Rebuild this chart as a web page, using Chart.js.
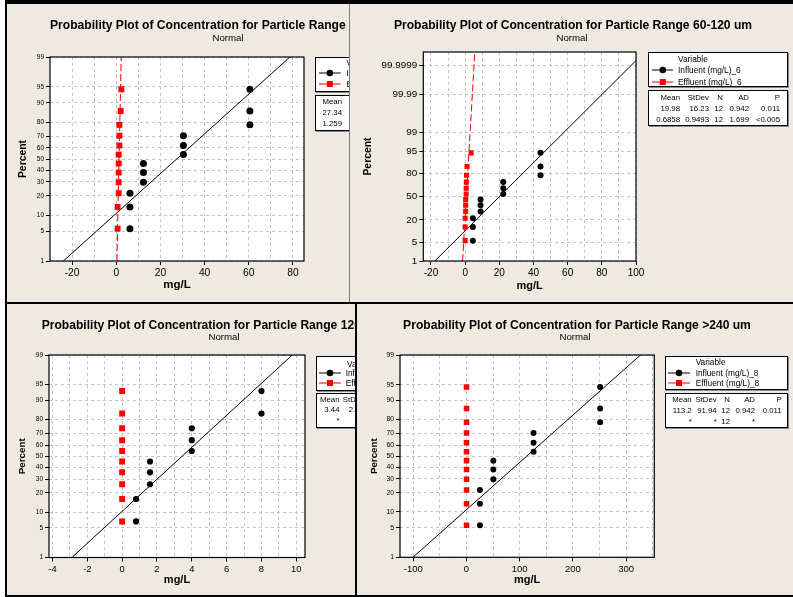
<!DOCTYPE html>
<html lang="en">
<head>
<meta charset="UTF-8" />
<title>Probability Plots of Concentration</title>
<script src="https://cdn.jsdelivr.net/npm/chart.js@4.4.1/dist/chart.umd.min.js"></script>
<style>
  html,body{margin:0;padding:0;}
  body{width:793px;height:597px;position:relative;overflow:hidden;background:#000;
       font-family:"Liberation Sans",Arial,sans-serif;color:#000;}
  .panel{position:absolute;left:0;top:0;width:793px;height:597px;background:#eeeae1;}
  .panel canvas{position:absolute;left:0;top:0;}
  .txt{position:absolute;white-space:nowrap;line-height:1;}
  .box{position:absolute;background:#fff;border:1px solid #000;box-shadow:1px 1px 0 #8a8a8a;box-sizing:border-box;}
  .rule{position:absolute;z-index:5;}
</style>
</head>
<body>
<div class="rule" style="left:0;top:0;width:5px;height:597px;background:#fff"></div>
<div class="rule" style="left:349px;top:4px;width:1px;height:298px;background:#7c7c7c"></div>

<script>
/* ---------- data ---------- */
const yTicksStd  = [1, 5, 10, 20, 30, 40, 50, 60, 70, 80, 90, 95, 99];
const yTicksWide = [1, 5, 20, 50, 80, 95, 99, 99.99, 99.9999];

// percent (plotting position) of each sorted point
const pct12 = [5.6, 13.7, 21.8, 29.8, 37.9, 45.9, 54.0, 62.1, 70.2, 78.2, 86.3, 94.4];
const pct10 = [6.7, 16.3, 26.0, 35.6, 45.2, 54.8, 64.4, 74.0, 83.7, 93.3];

const statHead = ["Mean", "StDev", "N", "AD", "P"];

// top left
const titleA  = "Probability Plot of Concentration for Particle Range <60 um";
const seriesA = ["Influent (mg/L)_5", "Effluent (mg/L)_5"];
const infA    = [6.2, 6.2, 6.2, 12.3, 12.3, 12.3, 30.4, 30.4, 30.4, 60.5, 60.5, 60.5];
const effA    = [0.6, 0.6, 1.1, 1.1, 1.1, 1.1, 1.1, 1.4, 1.4, 1.4, 2.0, 2.3];
const meanA   = [27.34, 1.259];
const sdA     = [22.05, 0.42];
const statsA  = [["27.34"], ["1.259"]];
const xGridA  = [-20, -10, 0, 10, 20, 30, 40, 50, 60, 70, 80];
const xLabA   = [-20, 0, 20, 40, 60, 80];

// top right
const titleB  = "Probability Plot of Concentration for Particle Range 60-120 um";
const seriesB = ["Influent (mg/L)_6", "Effluent (mg/L)_6"];
const infB    = [4.5, 4.5, 4.5, 9.0, 9.0, 9.0, 22.3, 22.3, 22.3, 44.1, 44.1, 44.1];
const effB    = [0, 0, 0, 0.3, 0.3, 0.3, 0.6, 0.6, 0.7, 0.8, 1.1, 3.5];
const meanB   = [19.98, 0.6858];
const sdB     = [16.23, 0.9493];
const statsB  = [["19.98", "16.23", "12", "0.942", "0.011"],
                 ["0.6858", "0.9493", "12", "1.699", "<0.005"]];
const xGridB  = [-20, -10, 0, 10, 20, 30, 40, 50, 60, 70, 80, 90, 100];
const xLabB   = [-20, 0, 20, 40, 60, 80, 100];

// bottom left
const titleC  = "Probability Plot of Concentration for Particle Range 120-240 um";
const seriesC = ["Influent (mg/L)_7", "Effluent (mg/L)_7"];
const infC    = [0.8, 0.8, 1.6, 1.6, 1.6, 4.0, 4.0, 4.0, 8.0, 8.0];
const effC    = [0, 0, 0, 0, 0, 0, 0, 0, 0, 0];
const meanC   = [3.44, 0];
const sdC     = [2.72, null];
const statsC  = [["3.44", "2.72"], ["*", "*"]];
const xGridC  = [-4, -3, -2, -1, 0, 1, 2, 3, 4, 5, 6, 7, 8, 9, 10];
const xLabC   = [-4, -2, 0, 2, 4, 6, 8, 10];

// bottom right
const titleD  = "Probability Plot of Concentration for Particle Range >240 um";
const seriesD = ["Influent (mg/L)_8", "Effluent (mg/L)_8"];
const infD    = [25.2, 25.2, 25.2, 50.4, 50.4, 50.4, 126, 126, 126, 251.2, 251.2, 251.2];
const effD    = [0, 0, 0, 0, 0, 0, 0, 0, 0, 0, 0, 0];
const meanD   = [113.2, 0];
const sdD     = [91.94, null];
const statsD  = [["113.2", "91.94", "12", "0.942", "0.011"], ["*", "*", "12", "*", ""]];
const xGridD  = [-100, -50, 0, 50, 100, 150, 200, 250, 300, 350];
const xLabD   = [-100, 0, 100, 200, 300];

/* ---------- helpers ---------- */
const W = 793, H = 597;
const FONT = "'Liberation Sans', Arial, sans-serif";
const NS = "http://www.w3.org/2000/svg";

// inverse standard normal cdf (Acklam)
function probit(p) {
  const a = [-39.69683028665376, 220.9460984245205, -275.9285104469687, 138.3577518672690, -30.66479806614716, 2.506628277459239];
  const b = [-54.47609879822406, 161.5858368580409, -155.6989798598866, 66.80131188771972, -13.28068155288572];
  const c = [-0.007784894002430293, -0.3223964580411365, -2.400758277161838, -2.549732539343734, 4.374664141464968, 2.938163982698783];
  const d = [0.007784695709041462, 0.3224671290700398, 2.445134137142996, 3.754408661907416];
  const lo = 0.02425;
  const tail = q => (((((c[0]*q+c[1])*q+c[2])*q+c[3])*q+c[4])*q+c[5]) / ((((d[0]*q+d[1])*q+d[2])*q+d[3])*q+1);
  if (p < lo) return tail(Math.sqrt(-2 * Math.log(p)));
  if (p > 1 - lo) return -tail(Math.sqrt(-2 * Math.log(1 - p)));
  const q = p - 0.5, r = q * q;
  return (((((a[0]*r+a[1])*r+a[2])*r+a[3])*r+a[4])*r+a[5])*q / (((((b[0]*r+b[1])*r+b[2])*r+b[3])*r+b[4])*r+1);
}

/* normal probability axis: percent values placed on a z scale */
class ProbitScale extends Chart.Scale {
  determineDataLimits() {
    this.min = this.options.min;
    this.max = this.options.max;
  }
  configure() {
    super.configure();
    this._zLo = probit(this.min / 100);
    this._zHi = probit(this.max / 100);
  }
  getLabelForValue(v) { return String(v); }
  getPixelForValue(v) {
    return this.getPixelForDecimal((probit(v / 100) - this._zLo) / (this._zHi - this._zLo));
  }
}
ProbitScale.id = "probit";
ProbitScale.defaults = {};
Chart.register(ProbitScale);

const framePlugin = {
  id: "frame",
  beforeDraw(chart) {
    const { ctx, chartArea: a } = chart;
    ctx.save(); ctx.fillStyle = "#fff";
    ctx.fillRect(a.left, a.top, a.width, a.height); ctx.restore();
  },
  afterDraw(chart) {
    const { ctx, chartArea: a } = chart;
    ctx.save(); ctx.strokeStyle = "#000"; ctx.lineWidth = 1.2;
    ctx.strokeRect(a.left, a.top, a.width, a.height); ctx.restore();
  }
};

function addText(div, str, x, y, size, align, bold) {
  const el = document.createElement("div");
  el.className = "txt";
  el.textContent = str;
  el.style.left = x + "px";
  el.style.top = y + "px";
  el.style.fontSize = size + "px";
  if (bold) el.style.fontWeight = "bold";
  const tx = align === "center" ? "-50%" : align === "right" ? "-100%" : "0";
  el.style.transform = `translate(${tx},-50%)`;
  div.appendChild(el);
}

function addBox(div, x, y, w, h) {
  const el = document.createElement("div");
  el.className = "box";
  Object.assign(el.style, { left: x + "px", top: y + "px", width: w + "px", height: h + "px" });
  div.appendChild(el);
}

function addKey(div, x0, x1, y, color, square) {
  const svg = document.createElementNS(NS, "svg");
  svg.setAttribute("width", x1 - x0); svg.setAttribute("height", 10);
  Object.assign(svg.style, { position: "absolute", left: x0 + "px", top: (y - 5) + "px" });
  const mid = (x1 - x0) / 2;
  svg.innerHTML = `<line x1="0" y1="5" x2="${x1 - x0}" y2="5" stroke="${color}" stroke-width="1"/>` +
    (square ? `<rect x="${mid - 3}" y="2" width="6" height="6" fill="${color}"/>`
            : `<circle cx="${mid}" cy="5" r="3.3" fill="${color}"/>`);
  div.appendChild(svg);
}

/* ---------- one Minitab style probability plot ---------- */
function makePanel(p) {
  const div = document.createElement("div");
  div.className = "panel";
  const [cl, ct, cr, cb] = p.clip;
  div.style.clipPath = `inset(${ct}px ${W - cr}px ${H - cb}px ${cl}px)`;
  document.body.appendChild(div);

  const cv = document.createElement("canvas");
  cv.width = W; cv.height = H;
  div.appendChild(cv);

  const [L, T, R, B] = p.plot;
  const yLeft = p.pctX - p.pctFont * 1.2 / 2;
  const xBottom = p.mgY + p.mgFont * 1.2 / 2;

  const pts = xs => xs.map((x, i) => ({ x, y: p.pct[i] }));
  const fit = k => [p.yMin, p.yMax].map(v => ({ x: p.mean[k] + probit(v / 100) * p.sd[k], y: v }));

  const datasets = [
    { data: pts(p.inf), showLine: false, pointStyle: "circle", pointRadius: p.dotR,
      backgroundColor: "#000", borderWidth: 0, order: 2 },
    { data: pts(p.eff), showLine: false, pointStyle: "rect", pointRadius: p.sqR,
      backgroundColor: "#ff0000", borderWidth: 0, order: 1 },
    { data: fit(0), showLine: true, pointRadius: 0, borderColor: "#000", borderWidth: 1, order: 3 }
  ];
  if (p.sd[1]) {
    datasets.push({ data: fit(1), showLine: true, pointRadius: 0, borderColor: "#ff0000",
                    borderWidth: 1, borderDash: [7, 3], order: 3 });
  }

  new Chart(cv, {
    type: "scatter",
    data: { datasets },
    plugins: [framePlugin],
    options: {
      responsive: false, animation: false, events: [], devicePixelRatio: 1,
      layout: { padding: { left: yLeft, top: T, right: W - R, bottom: H - xBottom } },
      plugins: { legend: { display: false }, tooltip: { enabled: false } },
      scales: {
        x: {
          type: "linear", position: "bottom", min: p.xMin, max: p.xMax,
          afterBuildTicks: s => { s.ticks = p.xGrid.map(v => ({ value: v })); },
          afterFit: s => { s.height = xBottom - B; },
          ticks: { autoSkip: false, maxRotation: 0, padding: 2, color: "#000",
                   font: { family: FONT, size: p.xFont },
                   callback: v => p.xLab.includes(v) ? String(v) : "" },
          grid: { color: "#c4c4c4", tickLength: 4,
                  tickColor: c => p.xLab.includes(c.tick && c.tick.value) ? "#000" : "rgba(0,0,0,0)" },
          border: { display: false, dash: [3, 3] },
          title: { display: true, text: "mg/L", padding: 0, color: "#000",
                   font: { family: FONT, size: p.mgFont, weight: "bold" } }
        },
        y: {
          type: "probit", position: "left", min: p.yMin, max: p.yMax,
          afterBuildTicks: s => { s.ticks = p.yTicks.map(v => ({ value: v })); },
          afterFit: s => { s.width = L - yLeft; },
          ticks: { autoSkip: false, padding: 2, color: "#000",
                   font: { family: FONT, size: p.yFont } },
          grid: { color: "#c4c4c4", tickLength: 4, tickColor: "#000" },
          border: { display: false, dash: [3, 3] },
          title: { display: true, text: "Percent", padding: 0, color: "#000",
                   font: { family: FONT, size: p.pctFont, weight: "bold" } }
        }
      }
    }
  });

  // titles
  addText(div, p.title, p.titleX, p.titleY, 12.1, p.titleAlign, true);
  addText(div, "Normal", p.normX, p.normY, 9.7, "center", false);

  // legend box
  const g = p.legend;
  addBox(div, g.x, g.y0, g.w, g.y1 - g.y0);
  addText(div, "Variable", g.varX, g.varY, 8.3, "left", false);
  g.rows.forEach((ry, i) => {
    addKey(div, g.x + g.k0, g.x + g.k1, ry, i ? "#ff0000" : "#000", i === 1);
    addText(div, p.series[i], g.textX, ry, 8.3, "left", false);
  });

  // statistics table
  const s = p.table;
  addBox(div, g.x, s.y0, g.w, s.y1 - s.y0);
  s.cols.forEach((cx, j) => {
    addText(div, statHead[j], g.x + cx, s.rows[0], 7.8, "right", false);
    p.stats.forEach((row, i) => {
      if (row[j] !== undefined) addText(div, row[j], g.x + cx, s.rows[i + 1], 7.8, "right", false);
    });
  });
}

/* ---------- the four panels ---------- */
makePanel({
  clip: [7, 4, 349, 302], plot: [50, 57, 304, 261],
  pctX: 23.3, pctFont: 10.4, mgY: 285, mgFont: 11.5,
  xMin: -30, xMax: 85, xGrid: xGridA, xLab: xLabA, xFont: 10.3,
  yMin: 1, yMax: 99, yTicks: yTicksStd, yFont: 6.5,
  dotR: 3.5, sqR: 4.2,
  inf: infA, eff: effA, pct: pct12, mean: meanA, sd: sdA,
  series: seriesA, stats: statsA,
  title: titleA, titleX: 50, titleAlign: "left", titleY: 25, normX: 228, normY: 38,
  legend: { x: 314.7, w: 140, y0: 57.3, y1: 91.7, varX: 346.5, varY: 62.5,
            rows: [73, 84], k0: 4.3, k1: 26, textX: 346.5 },
  table: { y0: 95, y1: 130.7, rows: [101.7, 112.7, 124], cols: [27.3] }
});

makePanel({
  clip: [350, 4, 793, 302], plot: [423.3, 52, 636, 261],
  pctX: 368, pctFont: 10.4, mgY: 286, mgFont: 11,
  xMin: -24.5, xMax: 100, xGrid: xGridB, xLab: xLabB, xFont: 10,
  yMin: 1, yMax: 99.999992, yTicks: yTicksWide, yFont: 9.9,
  dotR: 3, sqR: 3.6,
  inf: infB, eff: effB, pct: pct12, mean: meanB, sd: sdB,
  series: seriesB, stats: statsB,
  title: titleB, titleX: 573, titleAlign: "center", titleY: 25, normX: 572, normY: 38,
  legend: { x: 647.7, w: 140, y0: 51.7, y1: 87.3, varX: 678, varY: 59,
            rows: [70, 81.7], k0: 4, k1: 25.6, textX: 678 },
  table: { y0: 90, y1: 126, rows: [98, 109, 120], cols: [32.3, 61.3, 75.3, 101.3, 132.3] }
});

makePanel({
  clip: [7, 304, 355, 595], plot: [49, 355, 305, 557.5],
  pctX: 22.7, pctFont: 9.8, mgY: 580, mgFont: 11,
  xMin: -4.2, xMax: 10.5, xGrid: xGridC, xLab: xLabC, xFont: 9.4,
  yMin: 1, yMax: 99, yTicks: yTicksStd, yFont: 6.5,
  dotR: 3.1, sqR: 4.2,
  inf: infC, eff: effC, pct: pct10, mean: meanC, sd: sdC,
  series: seriesC, stats: statsC,
  title: titleC, titleX: 41.7, titleAlign: "left", titleY: 325, normX: 224, normY: 337,
  legend: { x: 316, w: 140, y0: 355.7, y1: 390.7, varX: 347, varY: 364,
            rows: [372.7, 383.3], k0: 3, k1: 25, textX: 345.7 },
  table: { y0: 393.3, y1: 428.3, rows: [400, 410, 420.7], cols: [23.5, 48] }
});

makePanel({
  clip: [357, 304, 793, 595], plot: [400, 355, 654.3, 557.3],
  pctX: 374, pctFont: 9.8, mgY: 580, mgFont: 11,
  xMin: -125, xMax: 353, xGrid: xGridD, xLab: xLabD, xFont: 9.5,
  yMin: 1, yMax: 99, yTicks: yTicksStd, yFont: 6.8,
  dotR: 3, sqR: 3.9,
  inf: infD, eff: effD, pct: pct12, mean: meanD, sd: sdD,
  series: seriesD, stats: statsD,
  title: titleD, titleX: 577, titleAlign: "center", titleY: 325, normX: 575, normY: 337,
  legend: { x: 665, w: 122.7, y0: 356, y1: 390, varX: 695.7, varY: 361.7,
            rows: [372.7, 383.3], k0: 3, k1: 25, textX: 695.7 },
  table: { y0: 393.3, y1: 428.3, rows: [400, 411, 422], cols: [26.7, 51.7, 65, 90, 116.7] }
});
</script>
</body>
</html>
